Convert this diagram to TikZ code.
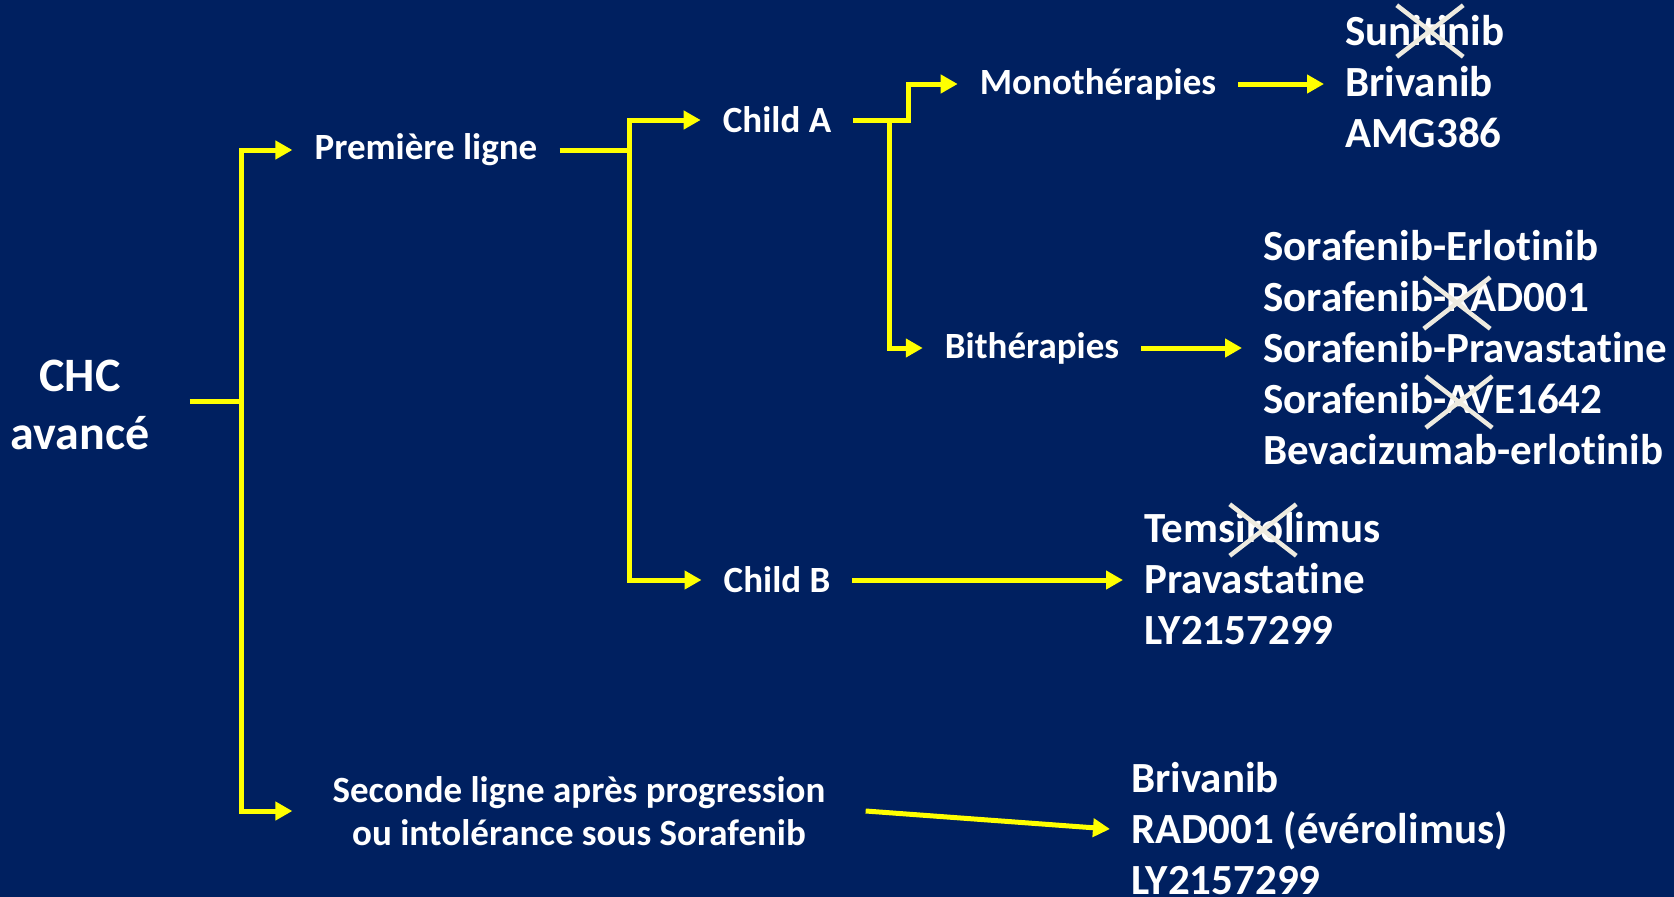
\documentclass[tikz,border=0pt]{standalone}
\usepackage{fontspec}
\setmainfont{Carlito}[Ligatures={NoCommon}]
\usetikzlibrary{arrows.meta,shapes.misc}
\definecolor{fondbleu}{HTML}{002060}
\definecolor{jaune}{HTML}{FFFF00}
\definecolor{barrecol}{HTML}{EEEBE0}

\begin{document}
\begin{tikzpicture}[x=1pt, y=-1pt,
	trait/.style={jaune, line width=5pt},
	fleche/.style={trait, -{Triangle[length=17pt, width=18pt]}},
	etape/.style={text=white, font=\bfseries\fontsize{37}{43}\selectfont, inner xsep=22pt, inner ysep=0pt, align=center},
	liste/.style={text=white, font=\bfseries\fontsize{43}{51}\selectfont, inner xsep=21pt, inner ysep=0pt, align=left, anchor=west},
	barre/.style={cross out, draw=barrecol, line width=4.5pt, minimum width=62pt, minimum height=47pt, inner sep=0pt}]
	\fill[fondbleu] (0,0) rectangle (1674,897);
	\useasboundingbox (0,0) rectangle (1674,897);
	% etapes
	\node[etape, font=\bfseries\fontsize{48}{58}\selectfont, inner xsep=40pt] (chc) at (80,405) {CHC\\avancé};
	\node[etape] (premiere) at (426,150) {Première ligne};
	\node[etape] (childa) at (777,120) {Child A};
	\node[etape] (childb) at (777,580) {Child B};
	\node[etape] (mono) at (1098,84) {Monothérapies};
	\node[etape] (bith) at (1032,348) {Bithérapies};
	\node[etape, inner xsep=40pt] (seconde) at (579,811) {Seconde ligne après progression\\ou intolérance sous Sorafenib};
	% listes de molecules
	\node[liste] (listea) at (1324,82) {Sunitinib\\Brivanib\\AMG386};
	\node[liste] (listeb) at (1242,348) {Sorafenib-Erlotinib\\Sorafenib-RAD001\\Sorafenib-Pravastatine\\Sorafenib-AVE1642\\Bevacizumab-erlotinib};
	\node[liste] (listec) at (1123,579) {Temsirolimus\\Pravastatine\\LY2157299};
	\node[liste] (listed) at (1110,829) {Brivanib\\RAD001 (évérolimus)\\LY2157299};
	% molecules barrees
	\node[barre] (xsuni) at (1430,31) {};
	\node[barre] (xrad) at (1457,303) {};
	\node[barre] (xave) at (1459,402) {};
	\node[barre] (xtems) at (1263,530) {};
	% branches
	\coordinate (j0) at (241,401);
	\draw[trait] (chc.east |- j0) -- (j0);
	\draw[fleche] (j0) |- (premiere.west);
	\draw[fleche] (j0) |- (seconde.west);
	\draw[trait] (premiere.east) -- ++(70,0) coordinate (j1);
	\draw[fleche] (j1) |- (childa.west);
	\draw[fleche] (j1) |- (childb.west);
	\draw[fleche] (childa.east) -- ++(55,0) |- (mono.west);
	\draw[fleche] ([xshift=36pt]childa.east) |- (bith.west);
	\draw[fleche] (mono.east) -- (mono.east -| listea.west);
	\draw[fleche] (bith.east) -- (bith.east -| listeb.west);
	\draw[fleche] (childb.east) -- (childb.east -| listec.west);
	\draw[fleche] (seconde.east) -- (listed.west);
\end{tikzpicture}
\end{document}
